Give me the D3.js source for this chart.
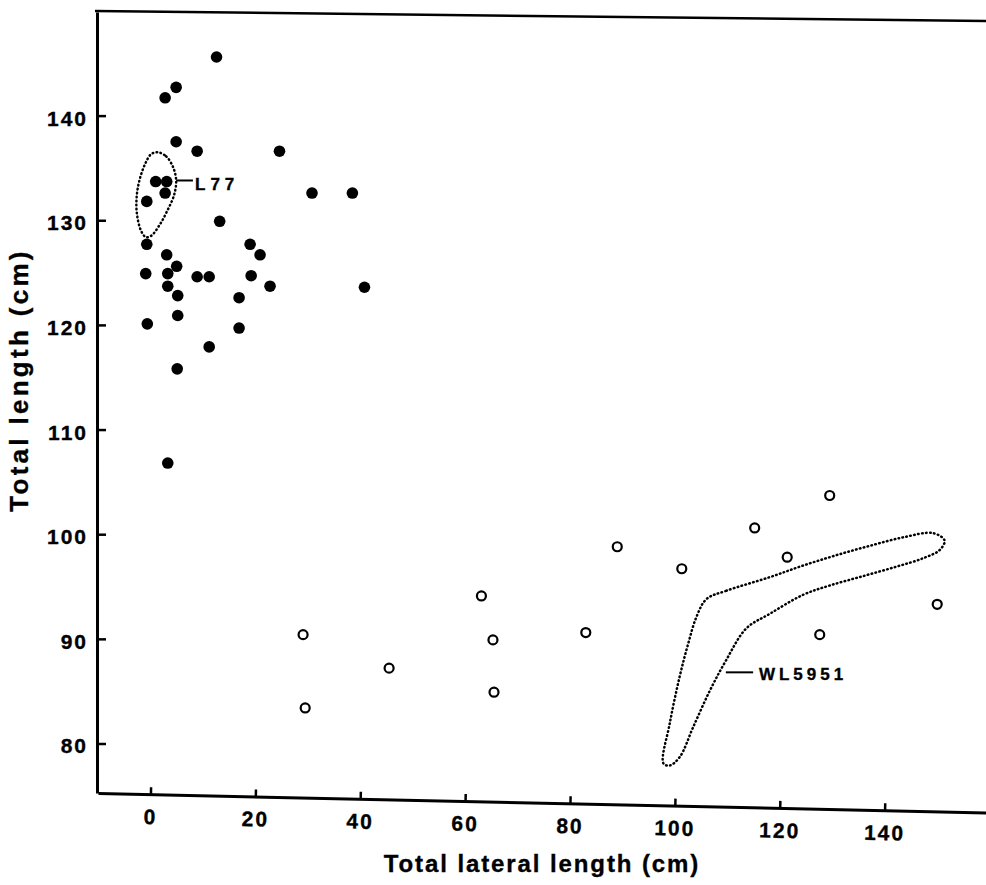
<!DOCTYPE html>
<html lang="en">
<head>
    <meta charset="utf-8">
    <title>Total length vs total lateral length</title>
    <style>
        body { margin: 0; background: #fff; }
        svg text { font-family: "Liberation Sans", Arial, sans-serif; font-weight: bold; fill: #000; stroke: #000; stroke-width: 0.35px; }
    </style>
</head>
<body>
    <script src="https://cdnjs.cloudflare.com/ajax/libs/d3/7.9.0/d3.min.js"></script>
    <script>

    // filled circles: [total lateral length, total length]
    const solidPoints = [
        [12.6,145.6],[4.9,142.7],[2.8,141.7],[4.9,137.5],[8.9,136.6],[24.6,136.6],
        [1.0,133.7],[3.1,133.7],[2.8,132.6],[30.8,132.6],[38.5,132.6],
        [-0.7,131.8],[13.2,129.9],[-0.7,127.7],[19.0,127.7],[3.1,126.7],[20.9,126.7],
        [5.0,125.6],[-0.9,124.9],[3.3,124.9],[8.9,124.6],[11.2,124.6],[19.2,124.7],
        [3.3,123.7],[22.8,123.7],[40.8,123.6],[5.2,122.8],[16.9,122.6],[-0.6,120.1],
        [5.2,120.9],[16.9,119.7],[11.2,117.9],[5.1,115.8],[3.3,106.8]
    ];

    // open circles
    const openPoints = [
        [63.1,94.1],[29.1,90.4],[65.3,89.9],[83.0,90.6],[45.5,87.2],[29.5,83.4],[65.5,84.9],
        [129.5,103.7],[115.2,100.6],[89.0,98.8],[101.3,96.7],[121.4,97.8],[150.0,93.3],[127.6,90.4]
    ];

    // dotted outlines
    const l77Outline = [
        [1.4,136.5],[3.0,136.1],[4.3,135.1],[4.9,133.8],[4.5,132.4],[3.2,130.9],[1.8,129.6],
        [0.1,128.5],[-0.9,128.4],[-1.8,129.0],[-2.6,130.7],[-2.6,132.4],[-2.0,134.0],[-1.0,135.4],[0.1,136.3]
    ];
    const wl5951Outline = [
        [106.0,93.8],[109.8,94.6],[118.1,95.9],[124.4,97.0],[130.8,98.0],[137.2,98.9],[143.5,99.7],
        [149.2,100.1],[151.4,99.4],[150.5,98.5],[147.3,97.7],[142.2,96.9],[135.9,96.0],[129.5,95.1],
        [124.4,94.2],[118.1,92.4],[113.6,91.0],[109.8,88.0],[106.7,85.1],[103.5,81.6],[100.9,78.7],
        [99.0,77.9],[97.8,78.1],[99.0,81.9],[100.9,86.4],[102.5,89.5],[104.1,92.1]
    ];

    // labels with leader lines: from x0 to x1 at y, text at tx, ty
    const labels = [
        {name: "L77", x0: 4.9, x1: 8.1, y: 133.8, tx: 8.5, ty: 132.9, spacing: 5},
        {name: "WL5951", x0: 109.7, x1: 114.9, y: 86.8, tx: 116.0, ty: 86.1, spacing: 4}
    ];

    const xTicks = [0, 20, 40, 60, 80, 100, 120, 140];
    const yTicks = [80, 90, 100, 110, 120, 130, 140];

    const width = 986;
    const height = 885;

    const svg = d3.select("body")
        .append("svg")
        .attr("width", width)
        .attr("height", height);

    const x = d3.scaleLinear().domain([-10, 159.3]).range([98, 986]);
    const y = d3.scaleLinear().domain([75.27, 149.9]).range([793, 12]);

    // top border (scan is slightly tilted)
    svg.append("line")
        .attr("x1", 95).attr("y1", 11)
        .attr("x2", width).attr("y2", 21)
        .attr("stroke", "#000").attr("stroke-width", 2.5);

    // y axis
    const yAxis = svg.append("g")
        .attr("transform", "translate(97,0)")
        .call(d3.axisLeft(y).tickValues(yTicks).tickSizeInner(-9).tickSizeOuter(0).tickPadding(9));
    yAxis.select(".domain").attr("stroke", "#000").attr("stroke-width", 3);
    yAxis.selectAll(".tick line").attr("stroke", "#000").attr("stroke-width", 2.5);
    yAxis.selectAll("text")
        .attr("dy", "0.45em")
        .style("font-size", "21px")
        .style("letter-spacing", "2px");

    // x axis, tilted like the scan
    const xAxis = svg.append("g")
        .attr("transform", "translate(0,793) rotate(1.25,98,0)")
        .call(d3.axisBottom(x).tickValues(xTicks).tickSizeInner(-7).tickSizeOuter(0).tickPadding(15));
    xAxis.select(".domain").attr("stroke", "#000").attr("stroke-width", 3);
    xAxis.selectAll(".tick line").attr("stroke", "#000").attr("stroke-width", 2.5);
    xAxis.selectAll("text")
        .style("font-size", "21px")
        .style("letter-spacing", "2px");

    // axis titles
    svg.append("text")
        .attr("x", 542).attr("y", 872)
        .attr("text-anchor", "middle")
        .style("font-size", "24px")
        .style("letter-spacing", "1.9px")
        .text("Total lateral length (cm)");

    svg.append("text")
        .attr("transform", "translate(28,380) rotate(-90)")
        .attr("text-anchor", "middle")
        .style("font-size", "26px")
        .style("letter-spacing", "3.3px")
        .text("Total length (cm)");

    // dotted outlines
    const outline = d3.line()
        .x(d => x(d[0]))
        .y(d => y(d[1]))
        .curve(d3.curveCatmullRomClosed);

    svg.selectAll(".outline")
        .data([l77Outline, wl5951Outline])
        .enter()
        .append("path")
        .attr("class", "outline")
        .attr("d", outline)
        .attr("fill", "none")
        .attr("stroke", "#000")
        .attr("stroke-width", 2.5)
        .attr("stroke-linecap", "round")
        .attr("stroke-dasharray", "0.6,3.4");

    // points
    svg.selectAll(".solid")
        .data(solidPoints)
        .enter()
        .append("circle")
        .attr("class", "solid")
        .attr("cx", d => x(d[0]))
        .attr("cy", d => y(d[1]))
        .attr("r", 5.8)
        .attr("fill", "#000");

    svg.selectAll(".open")
        .data(openPoints)
        .enter()
        .append("circle")
        .attr("class", "open")
        .attr("cx", d => x(d[0]))
        .attr("cy", d => y(d[1]))
        .attr("r", 4.5)
        .attr("fill", "#fff")
        .attr("stroke", "#000")
        .attr("stroke-width", 2.2);

    // labels
    svg.selectAll(".leader")
        .data(labels)
        .enter()
        .append("line")
        .attr("class", "leader")
        .attr("x1", d => x(d.x0))
        .attr("x2", d => x(d.x1))
        .attr("y1", d => y(d.y))
        .attr("y2", d => y(d.y))
        .attr("stroke", "#000")
        .attr("stroke-width", 2);

    svg.selectAll(".label")
        .data(labels)
        .enter()
        .append("text")
        .attr("class", "label")
        .attr("x", d => x(d.tx))
        .attr("y", d => y(d.ty))
        .style("font-size", "17px")
        .style("letter-spacing", d => d.spacing + "px")
        .text(d => d.name);

    </script>
</body>
</html>
